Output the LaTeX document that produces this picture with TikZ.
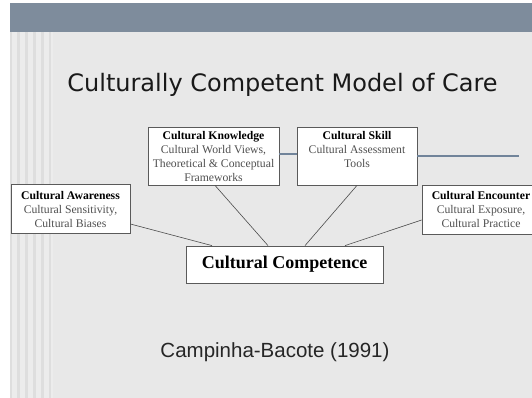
\documentclass[tikz,border=0pt]{standalone}
\usepackage{fontspec}
\setmainfont{Liberation Serif}
\newfontfamily\titlefont{DejaVu Sans}
\newfontfamily\citefont{Liberation Sans}
\definecolor{slidebg}{HTML}{E8E8E8}
\definecolor{stripeA}{HTML}{DEDEDE}
\definecolor{stripeB}{HTML}{ECECEC}
\definecolor{bandblue}{HTML}{7E8C9C}
\definecolor{linkblue}{HTML}{71849A}
\definecolor{boxline}{HTML}{5A5A5A}
\definecolor{bodygray}{HTML}{505050}
\begin{document}
\begin{tikzpicture}[x=1pt,y=-1pt,
  conceptbox/.style={draw=boxline, fill=white, line width=0.8pt, inner sep=0pt},
  boxtext/.style={align=center, inner sep=0pt, font=\fontsize{11.7}{14}\selectfont},
  spoke/.style={draw=black!70, line width=0.6pt},
  bar/.style={draw=linkblue, line width=2.6pt}]
\useasboundingbox (0,0) rectangle (532,398);
\begin{scope}
\clip (0,0) rectangle (532,398);
% slide background
\fill[white] (0,0) rectangle (532,398);
\fill[slidebg] (10,3) rectangle (532,398);
% striped margin on the left
\fill[stripeA] (10,32) rectangle (52,398);
\foreach \sx in {12,20,28,36,44} {
  \fill[stripeB] (\sx,32) rectangle (\sx+4.5,398);
}
\fill[stripeB] (51,32) rectangle (53,398);
% header band
\fill[bandblue] (10,3) rectangle (532,32);

% title
\node[anchor=base, font=\titlefont\fontsize{24}{28}\selectfont, text=black!90] (title) at (282.5,92)
  {Culturally Competent Model of Care};

% concept boxes
\node[conceptbox, minimum width=131pt, minimum height=58pt] (kn) at (213.5,156) {};
\node[boxtext] (kntext) at (213.5,156.5)
  {\textbf{Cultural Knowledge}\\ \textcolor{bodygray}{Cultural World Views,}\\ \textcolor{bodygray}{Theoretical \& Conceptual}\\ \textcolor{bodygray}{Frameworks}};

\node[conceptbox, minimum width=120pt, minimum height=58pt] (sk) at (357,156) {};
\node[boxtext] (sktext) at (357,149)
  {\textbf{Cultural Skill}\\ \textcolor{bodygray}{Cultural Assessment}\\ \textcolor{bodygray}{Tools}};

\node[conceptbox, minimum width=119pt, minimum height=49pt] (aw) at (70.5,208.5) {};
\node[boxtext] (awtext) at (70.5,209.5)
  {\textbf{Cultural Awareness}\\ \textcolor{bodygray}{Cultural Sensitivity,}\\ \textcolor{bodygray}{Cultural Biases}};

\node[conceptbox, minimum width=118pt, minimum height=49pt] (en) at (481,209.5) {};
\node[boxtext] (entext) at (481,209)
  {\textbf{Cultural Encounter}\\ \textcolor{bodygray}{Cultural Exposure,}\\ \textcolor{bodygray}{Cultural Practice}};

\node[conceptbox, minimum width=197pt, minimum height=37pt,
      font=\bfseries\fontsize{18}{21}\selectfont] (cc) at (284.5,264.5) {Cultural Competence};

% links between the upper boxes
\coordinate (barend) at (519,156);
\draw[bar] ([yshift=2pt]kn.east) -- ([yshift=2pt]sk.west);
\draw[bar] (sk.east) -- (barend);

% spokes into Cultural Competence
\draw[spoke] ([yshift=-15.5pt]aw.east) -- ([xshift=-72.5pt]cc.north);
\draw[spoke] ([xshift=1.5pt]kn.south) -- ([xshift=-16.5pt]cc.north);
\draw[spoke] (sk.south) -- ([xshift=20.5pt]cc.north);
\draw[spoke] ([yshift=-10.5pt]en.west) -- ([xshift=60.5pt]cc.north);

% citation
\node[anchor=base, font=\citefont\fontsize{20.5}{24}\selectfont, text=black!85] (cite) at (275,357)
  {Campinha-Bacote (1991)};
\end{scope}
\end{tikzpicture}
\end{document}
